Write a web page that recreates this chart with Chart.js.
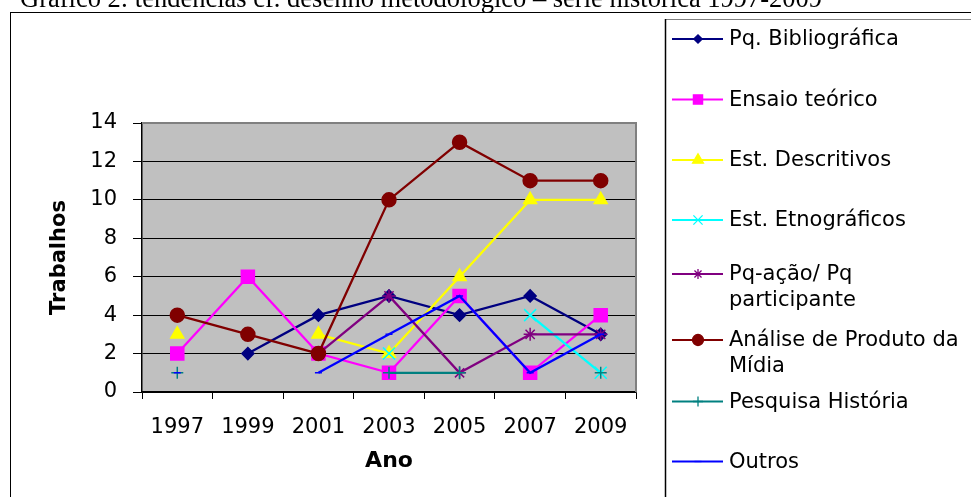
<!DOCTYPE html>
<html>
<head>
<meta charset="utf-8">
<script src="https://cdn.jsdelivr.net/npm/chart.js@4.4.1/dist/chart.umd.min.js"></script>
<style>
  html, body { margin: 0; padding: 0; background: #fff; overflow: hidden; }
</style>
</head>
<body>
<canvas id="grafico" width="971" height="497"></canvas>
<script>
// dados
const tituloGrafico = 'Gráfico 2: tendências cf. desenho metodológico – série histórica 1997-2009';
const anos = ['1997', '1999', '2001', '2003', '2005', '2007', '2009'];
const yTicks = [0, 2, 4, 6, 8, 10, 12, 14];

const pqBibliografica  = [null, 2, 4, 5, 4, 5, 3];
const ensaioTeorico    = [2, 6, 2, 1, 5, 1, 4];
const estDescritivos   = [3, null, 3, 2, 6, 10, 10];
const estEtnograficos  = [null, null, null, 2, null, 4, 1];
const pqAcao           = [null, null, 2, 5, 1, 3, 3];
const analiseMidia     = [4, 3, 2, 10, 13, 11, 11];
const pesquisaHistoria = [1, null, null, 1, 1, null, 1];
const outros           = [1, null, 1, 3, 5, 1, 3];

const nomesSeries = [
  'Pq. Bibliográfica',
  'Ensaio teórico',
  'Est. Descritivos',
  'Est. Etnográficos',
  'Pq-ação/ Pq\nparticipante',
  'Análise de Produto da\nMídia',
  'Pesquisa História',
  'Outros'
];

// estilo de cada série (cor, marcador, tamanho no gráfico e na legenda)
const estilos = [
  { cor: '#000080', ponto: 'rectRot',  r: 6,   rl: 4.2 },
  { cor: '#FF00FF', ponto: 'rect',     r: 9.2, rl: 6.5 },
  { cor: '#FFFF00', ponto: 'triangle', r: 7.5, rl: 6.3 },
  { cor: '#00FFFF', ponto: 'crossRot', r: 8.5, rl: 6.5 },
  { cor: '#800080', ponto: 'star',     r: 6.5, rl: 5 },
  { cor: '#800000', ponto: 'circle',   r: 7,   rl: 5.5 },
  { cor: '#008080', ponto: 'cross',    r: 6,   rl: 5 },
  { cor: '#0000FF', ponto: 'line',     r: 3.5, rl: 3.5 }
];

const valores = [pqBibliografica, ensaioTeorico, estDescritivos, estEtnograficos,
  pqAcao, analiseMidia, pesquisaHistoria, outros];

const datasets = valores.map((v, i) => ({
  label: nomesSeries[i],
  data: v,
  borderColor: estilos[i].cor,
  backgroundColor: estilos[i].cor,
  pointBackgroundColor: estilos[i].cor,
  pointBorderColor: estilos[i].cor,
  pointStyle: estilos[i].ponto,
  pointRadius: estilos[i].r,
  pointBorderWidth: 1.5,
  borderWidth: 2.3,
  tension: 0,
  spanGaps: false,
  order: valores.length - i // a última série fica por cima, como no Excel
}));

const FONTE = '"DejaVu Sans", sans-serif';

// fundo, moldura, título e legenda desenhados à mão
const decoracao = {
  id: 'decoracao',
  beforeDraw(chart) {
    const ctx = chart.ctx;
    const a = chart.chartArea;
    ctx.save();
    ctx.fillStyle = '#fff';
    ctx.fillRect(0, 0, chart.width, chart.height);

    ctx.fillStyle = '#000';
    ctx.font = '26.5px "Liberation Serif", serif';
    ctx.textBaseline = 'alphabetic';
    ctx.textAlign = 'left';
    ctx.fillText(tituloGrafico, 20, 7);

    ctx.strokeStyle = '#000';
    ctx.lineWidth = 1;
    ctx.strokeRect(10.5, 12.5, chart.width + 20, chart.height + 20);

    ctx.fillStyle = '#C0C0C0';
    ctx.fillRect(a.left, a.top, a.right - a.left, a.bottom - a.top);
    ctx.restore();
  },
  beforeDatasetsDraw(chart) {
    const ctx = chart.ctx;
    const a = chart.chartArea;
    ctx.save();
    ctx.strokeStyle = '#808080';
    ctx.lineWidth = 2;
    ctx.beginPath();
    ctx.moveTo(a.left, a.top);
    ctx.lineTo(a.right, a.top);
    ctx.lineTo(a.right, a.bottom);
    ctx.stroke();
    ctx.restore();
  },
  afterDraw(chart) {
    const ctx = chart.ctx;
    ctx.save();
    // caixa da legenda
    ctx.strokeStyle = '#808080';
    ctx.lineWidth = 1;
    ctx.beginPath();
    ctx.moveTo(665, 19.5);
    ctx.lineTo(chart.width, 19.5);
    ctx.stroke();
    ctx.strokeStyle = '#000';
    ctx.lineWidth = 1.5;
    ctx.beginPath();
    ctx.moveTo(665.5, 19);
    ctx.lineTo(665.5, chart.height);
    ctx.stroke();

    const linhasY = [39, 99.5, 160, 220, 274, 340, 401.5, 461.5];
    ctx.font = '21px ' + FONTE;
    ctx.textBaseline = 'middle';
    ctx.textAlign = 'left';
    chart.data.datasets.forEach((ds, i) => {
      const y = linhasY[i];
      const e = estilos[i];
      ctx.strokeStyle = e.cor;
      ctx.fillStyle = e.cor;
      ctx.lineWidth = 2;
      ctx.beginPath();
      ctx.moveTo(672, y);
      ctx.lineTo(723, y);
      ctx.stroke();
      ctx.lineWidth = 1.3;
      Chart.helpers.drawPoint(ctx, { pointStyle: e.ponto, radius: e.rl, rotation: 0, borderWidth: 1.3 }, 698, y);
      ctx.fillStyle = '#000';
      ds.label.split('\n').forEach((t, k) => {
        ctx.fillText(t, 729, y + 1 + k * 26);
      });
    });
    ctx.restore();
  }
};

new Chart(document.getElementById('grafico'), {
  type: 'line',
  data: { labels: anos, datasets },
  options: {
    responsive: false,
    animation: false,
    devicePixelRatio: 1,
    layout: { padding: { left: 0, top: 123, right: 335, bottom: 0 } },
    plugins: { legend: { display: false }, tooltip: { enabled: false } },
    scales: {
      x: {
        type: 'category',
        offset: true,
        afterFit(s) { s.height = 105; },
        grid: { offset: true, drawOnChartArea: false, color: '#000', tickLength: 7, lineWidth: 1 },
        border: { display: true, color: '#000', width: 1.5 },
        ticks: { color: '#000', font: { family: FONTE, size: 21 }, padding: 16, maxRotation: 0, autoSkip: false },
        title: { display: true, text: 'Ano', color: '#000', font: { family: FONTE, size: 22, weight: 'bold' }, padding: { top: 0, bottom: 23 } }
      },
      y: {
        min: yTicks[0],
        max: yTicks[yTicks.length - 1],
        afterFit(s) { s.width = 142; },
        afterBuildTicks(s) { s.ticks = yTicks.map(v => ({ value: v })); },
        grid: { color: '#000', tickLength: 9, lineWidth: 1 },
        border: { display: true, color: '#000', width: 1.5 },
        ticks: { color: '#000', font: { family: FONTE, size: 21 }, padding: 16 },
        title: { display: true, text: 'Trabalhos', color: '#000', font: { family: FONTE, size: 21, weight: 'bold' }, padding: { top: 47, bottom: 0 } }
      }
    }
  },
  plugins: [decoracao]
});
</script>
</body>
</html>
